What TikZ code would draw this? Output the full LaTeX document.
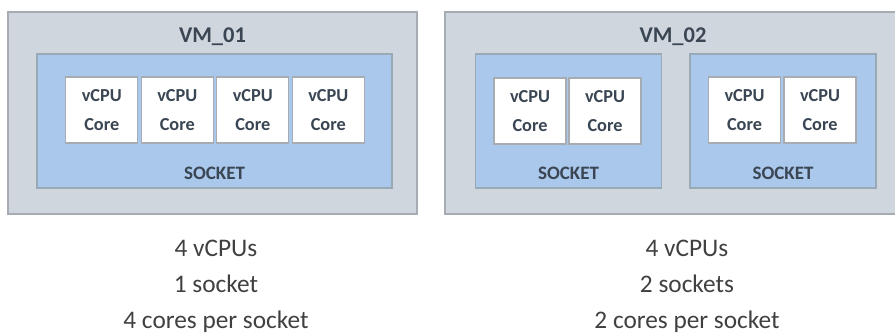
\documentclass[tikz,border=0pt]{standalone}
\usepackage{fontspec}
\setmainfont{Carlito}
\definecolor{vmfill}{HTML}{D0D6DD}
\definecolor{vmline}{HTML}{A6ACB2}
\definecolor{sockfill}{HTML}{AAC8EC}
\definecolor{sockline}{HTML}{9AA9B6}
\definecolor{boxtext}{HTML}{3A4653}
\definecolor{notetext}{HTML}{404040}
\tikzset{
  vmbox/.style={draw=vmline, fill=vmfill, line width=0.8pt, minimum height=5.05cm, inner sep=0pt},
  sockbox/.style={draw=sockline, fill=sockfill, line width=0.8pt, minimum height=3.35cm, inner sep=0pt},
  corebox/.style={draw=vmline, fill=white, line width=0.8pt, minimum width=1.8cm, minimum height=1.65cm, inner sep=0pt, align=center, text=boxtext, font=\fontsize{13}{20.5}\selectfont\bfseries},
  vmlabel/.style={text=boxtext, inner sep=0pt, font=\fontsize{16}{19}\selectfont\bfseries},
  socklabel/.style={text=boxtext, inner sep=0pt, font=\fontsize{13.5}{16}\selectfont\bfseries},
  note/.style={text=notetext, inner sep=0pt, align=center, font=\fontsize{18}{25.5}\selectfont}
}
\begin{document}
\begin{tikzpicture}[x=0.025cm, y=-0.025cm]
\useasboundingbox (0,0) rectangle (895,334);
% first machine: one socket with four cores
\node[vmbox, minimum width=10.225cm] (vm1) at (212.5,113) {};
\node[vmlabel] (vm1name) at (212.5,37) {VM\_01};
\node[sockbox, minimum width=8.875cm] (sock1) at (214.5,121) {};
\node[corebox] (core1a) at (101.75,110) {vCPU\\Core};
\node[corebox] (core1b) at (177.25,110) {vCPU\\Core};
\node[corebox] (core1c) at (252.75,110) {vCPU\\Core};
\node[corebox] (core1d) at (328.25,110) {vCPU\\Core};
\node[socklabel] (sock1name) at (214.5,173) {SOCKET};
% second machine: two sockets with two cores each
\node[vmbox, minimum width=11.4cm] (vm2) at (673,113) {};
\node[vmlabel] (vm2name) at (673,37) {VM\_02};
\node[sockbox, minimum width=4.65cm] (sock2a) at (568.5,121) {};
\node[sockbox, minimum width=4.65cm] (sock2b) at (783,121) {};
\node[corebox] (core2a) at (530,111) {vCPU\\Core};
\node[corebox] (core2b) at (605,111) {vCPU\\Core};
\node[corebox] (core2c) at (744.5,110) {vCPU\\Core};
\node[corebox] (core2d) at (820,110) {vCPU\\Core};
\node[socklabel] (sock2aname) at (568.5,173) {SOCKET};
\node[socklabel] (sock2bname) at (783,173) {SOCKET};
% summaries
\node[note] (vm1note) at (216,286) {4 vCPUs\\1 socket\\4 cores per socket};
\node[note] (vm2note) at (687,286) {4 vCPUs\\2 sockets\\2 cores per socket};
\end{tikzpicture}
\end{document}
